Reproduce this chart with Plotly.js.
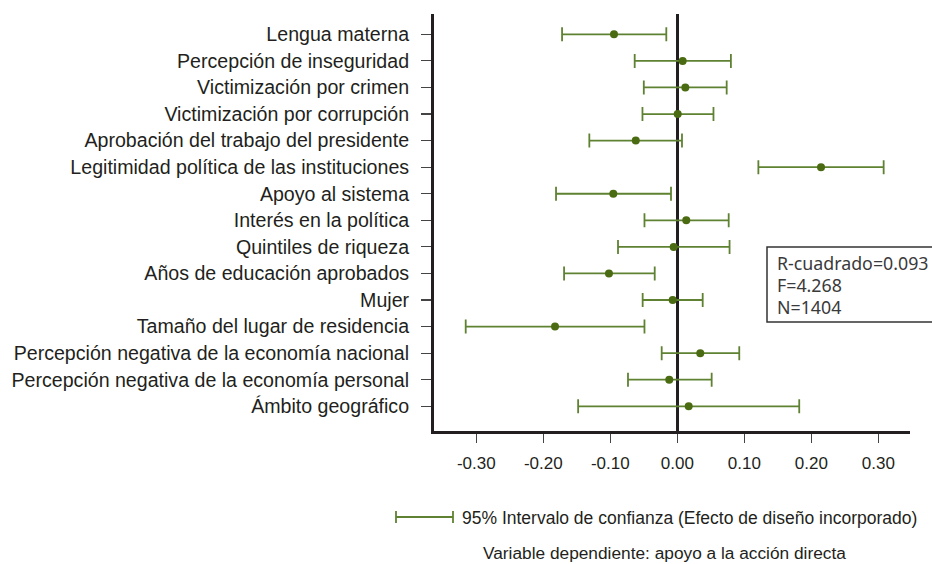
<!DOCTYPE html>
<html>
<head>
<meta charset="utf-8">
<script src="https://cdn.plot.ly/plotly-3.0.1.min.js"></script>
<style>html,body{margin:0;padding:0;background:#fff;}#chart{width:932px;height:564px;}</style>
</head>
<body>
<div id="chart"></div>
<script>
const categories = [
  "Lengua materna",
  "Percepción de inseguridad",
  "Victimización por crimen",
  "Victimización por corrupción",
  "Aprobación del trabajo del presidente",
  "Legitimidad política de las instituciones",
  "Apoyo al sistema",
  "Interés en la política",
  "Quintiles de riqueza",
  "Años de educación aprobados",
  "Mujer",
  "Tamaño del lugar de residencia",
  "Percepción negativa de la economía nacional",
  "Percepción negativa de la economía personal",
  "Ámbito geográfico"
];
const coefficients = [-0.0945, 0.008, 0.012, 0.0006, -0.062, 0.2145, -0.0955, 0.0134, -0.0054, -0.102, -0.0069, -0.1825, 0.0343, -0.012, 0.017];
const ciLower = [-0.172, -0.0636, -0.050, -0.052, -0.1313, 0.121, -0.181, -0.049, -0.0885, -0.169, -0.0517, -0.3158, -0.0233, -0.0736, -0.148];
const ciUpper = [-0.0164, 0.080, 0.0737, 0.054, 0.007, 0.308, -0.0094, 0.0767, 0.078, -0.0337, 0.0379, -0.049, 0.0925, 0.0513, 0.182];
const xTickVals = [-0.3, -0.2, -0.1, 0, 0.1, 0.2, 0.3];
const xTickText = ["-0.30", "-0.20", "-0.10", "0.00", "0.10", "0.20", "0.30"];
const statsLines = ["R-cuadrado=0.093", "F=4.268", "N=1404"];
const legendText = "95% Intervalo de confianza (Efecto de diseño incorporado)";
const footnote = "Variable dependiente: apoyo a la acción directa";

const plusErr = coefficients.map((c, i) => ciUpper[i] - c);
const minusErr = coefficients.map((c, i) => c - ciLower[i]);

const dark = "#231f20";
const green = "#4a6b12";
const barGreen = "#5f8232";

const trace = {
  type: "scatter",
  mode: "markers",
  x: coefficients,
  y: categories,
  marker: {color: green, size: 8},
  error_x: {
    type: "data", symmetric: false,
    array: plusErr, arrayminus: minusErr,
    color: barGreen, thickness: 1.8, width: 7
  },
  showlegend: false,
  hoverinfo: "x+y"
};

// plot area in pixels: x 434..910, y 14..431
const L = 434, R = 910, T = 14, B = 431;
const px = v => (v - L) / (R - L);
const py = v => (B - v) / (B - T);

const shapes = [
  // stats box
  {type: "rect", xref: "paper", yref: "paper", x0: px(767), x1: px(960), y0: py(322), y1: py(247),
   line: {color: "#333", width: 1.5}, fillcolor: "rgba(0,0,0,0)", layer: "above"},
  // legend sample line
  {type: "line", xref: "paper", yref: "paper", x0: px(396), x1: px(453), y0: py(517), y1: py(517),
   line: {color: barGreen, width: 1.8}},
  {type: "line", xref: "paper", yref: "paper", x0: px(396), x1: px(396), y0: py(511), y1: py(523),
   line: {color: barGreen, width: 1.8}},
  {type: "line", xref: "paper", yref: "paper", x0: px(453), x1: px(453), y0: py(511), y1: py(523),
   line: {color: barGreen, width: 1.8}}
];

const statsY = [263, 285, 307];
const annotations = statsLines.map((t, i) => ({
  text: t, xref: "paper", yref: "paper", x: px(775), y: py(statsY[i]),
  xanchor: "left", yanchor: "middle", showarrow: false,
  font: {family: "Noto Sans, Open Sans, sans-serif", size: 17.8, color: "#3a3a3a"}
}));
annotations.push({
  text: legendText, xref: "paper", yref: "paper", x: px(460), y: py(518),
  xanchor: "left", yanchor: "middle", showarrow: false,
  font: {family: "Liberation Sans, Arial, sans-serif", size: 17.5, color: dark}
});
annotations.push({
  text: footnote, xref: "paper", yref: "paper", x: px(664), y: py(553),
  xanchor: "center", yanchor: "middle", showarrow: false,
  font: {family: "Liberation Sans, Arial, sans-serif", size: 17.3, color: dark}
});

const layout = {
  width: 932, height: 564,
  margin: {l: L, r: 932 - R, t: T, b: 564 - B, pad: 0},
  paper_bgcolor: "#fff", plot_bgcolor: "#fff",
  font: {family: "Liberation Sans, Arial, sans-serif", color: dark},
  xaxis: {
    range: [(L - 677.3) / 670, (R - 677.3) / 670],
    tickvals: xTickVals, ticktext: xTickText,
    showgrid: false, zeroline: true, zerolinecolor: dark, zerolinewidth: 3,
    showline: true, linecolor: dark, linewidth: 3,
    ticks: "outside", ticklen: 9, tickwidth: 1.5, tickcolor: "#444",
    tickfont: {size: 17, color: dark},
    ticklabelstandoff: 6,
    fixedrange: true
  },
  yaxis: {
    type: "category",
    categoryorder: "array", categoryarray: categories,
    range: [14.93, -0.765],
    showgrid: false, zeroline: false,
    showline: true, linecolor: dark, linewidth: 3,
    ticks: "outside", ticklen: 10, tickwidth: 1.2, tickcolor: "#444",
    tickfont: {size: 19.6, color: dark},
    ticklabelstandoff: 8,
    fixedrange: true
  },
  shapes: shapes,
  annotations: annotations,
  showlegend: false
};

Plotly.newPlot("chart", [trace], layout, {displayModeBar: false, staticPlot: true});
</script>
</body>
</html>
